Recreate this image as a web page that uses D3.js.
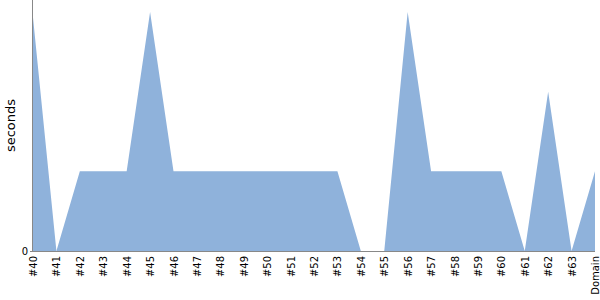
<!DOCTYPE html>
<html><head><meta charset="utf-8">
<script src="https://cdn.jsdelivr.net/npm/d3@7"></script>
<style>body{margin:0;background:#fff}svg{display:block}text{font-family:"DejaVu Sans",sans-serif}</style>
</head><body><svg id="c" width="600" height="300"></svg>
<script>
const categories = ["#40","#41","#42","#43","#44","#45","#46","#47","#48","#49","#50","#51","#52","#53","#54","#55","#56","#57","#58","#59","#60","#61","#62","#63","Domain"];
const seconds = [2.93,0,1,1,1,3,1,1,1,1,1,1,1,1,0,0,3,1,1,1,1,0,2,0,1];
const yTicks = [0];

const svg = d3.select("#c");
const m = {l:33, r:5, t:0, b:49};
const W = 600, H = 300;
const x = d3.scalePoint().domain(categories).range([m.l, W - m.r]);
const y = d3.scaleLinear().domain([0, 3.15]).range([H - m.b, m.t]);

const data = categories.map((c,i)=>({c, v: seconds[i]}));
svg.append("path").datum(data)
  .attr("fill","#8fb2db")
  .attr("d", d3.area().x(d=>x(d.c)).y0(y(0)).y1(d=>y(d.v)));

const xa = svg.append("g").attr("transform",`translate(0,${H-m.b})`)
  .call(d3.axisBottom(x).tickSize(0).tickPadding(5));
xa.select(".domain").attr("stroke","#888").attr("d",`M${m.l},0.5H${W-m.r}`);
xa.selectAll("text").attr("font-size",10).attr("fill","#000")
  .attr("transform","rotate(-90)").attr("text-anchor","end")
  .attr("x",-5).attr("y",0).attr("dy","0.35em");

const ya = svg.append("g").attr("transform",`translate(${m.l},0)`)
  .call(d3.axisLeft(y).tickValues(yTicks).tickFormat(d3.format("d")).tickSize(3).tickPadding(2));
ya.select(".domain").attr("stroke","#888").attr("d",`M-0.5,0V${H-m.b}`);
ya.selectAll("line").attr("stroke","#888");
ya.selectAll("text").attr("font-size",10).attr("fill","#000");

svg.append("text").attr("transform",`translate(15,${(H-m.b)/2}) rotate(-90)`)
  .attr("text-anchor","middle").attr("font-size",13).attr("fill","#000").text("seconds");
</script></body></html>
